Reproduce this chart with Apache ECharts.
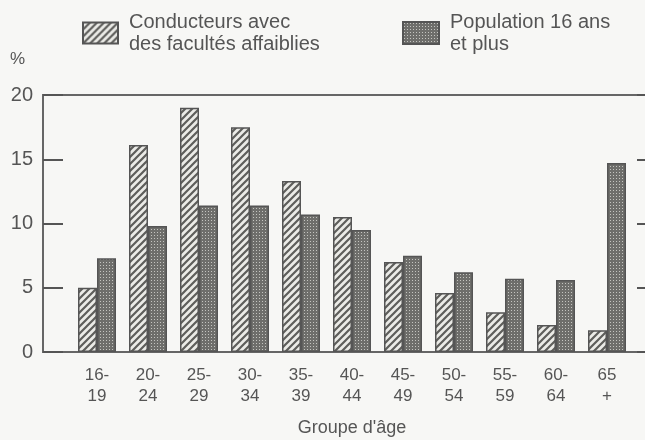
<!DOCTYPE html>
<html>
<head>
<meta charset="utf-8">
<script src="https://cdn.jsdelivr.net/npm/echarts@6/dist/echarts.min.js"></script>
<style>
  html, body { margin: 0; padding: 0; background: #f7f7f5; }
  #chart { width: 645px; height: 440px; }
</style>
</head>
<body>
<div id="chart"></div>
<script>
// groupes d'âge (axe des x)
const ageGroups = ['16-\n19', '20-\n24', '25-\n29', '30-\n34', '35-\n39', '40-\n44', '45-\n49', '50-\n54', '55-\n59', '60-\n64', '65\n+']
// conducteurs avec des facultés affaiblies (%)
const impaired = [5.0, 16.1, 19.0, 17.5, 13.3, 10.5, 7.0, 4.6, 3.1, 2.1, 1.7]
// population 16 ans et plus (%)
const population = [7.3, 9.8, 11.4, 11.4, 10.7, 9.5, 7.5, 6.2, 5.7, 5.6, 14.7]
const yTicks = [0, 5, 10, 15, 20]

const seriesNames = ['Conducteurs avec\ndes facultés affaiblies', 'Population 16 ans\net plus']

// motifs de remplissage (hachures / pointillé)
function hatchPattern() {
  const c = document.createElement('canvas')
  c.width = 7; c.height = 7
  const ctx = c.getContext('2d')
  ctx.fillStyle = '#ebebe7'
  ctx.fillRect(0, 0, 7, 7)
  ctx.strokeStyle = '#5e5e5b'
  ctx.lineWidth = 2.2
  ctx.beginPath()
  for (const o of [-7, 0, 7]) {
    ctx.moveTo(o - 1, 8)
    ctx.lineTo(o + 8, -1)
  }
  ctx.stroke()
  return c
}
function dotPattern() {
  const c = document.createElement('canvas')
  c.width = 3; c.height = 3
  const ctx = c.getContext('2d')
  ctx.fillStyle = '#6e6e6b'
  ctx.fillRect(0, 0, 3, 3)
  ctx.fillStyle = '#c4c4c0'
  ctx.fillRect(1, 1, 1, 1)
  return c
}

const textColor = '#555'
const font = 'Liberation Sans'

const legendText = { fontFamily: font, fontSize: 20, color: textColor, lineHeight: 22, padding: [0, 0, 0, 6] }

const chart = echarts.init(document.getElementById('chart'))
chart.setOption({
  backgroundColor: '#f7f7f5',
  animation: false,
  textStyle: { fontFamily: font, color: textColor },
  legend: [
    { data: [seriesNames[0]], left: 77, top: 6, icon: 'rect', itemWidth: 35, itemHeight: 21, textStyle: legendText },
    { data: [seriesNames[1]], left: 397, top: 6, icon: 'rect', itemWidth: 36, itemHeight: 22, textStyle: legendText }
  ],
  grid: [
    // cadre + axe des y
    { left: 43, top: 95, width: 620, height: 257, outerBoundsMode: 'none', show: true, borderColor: '#666', borderWidth: 2, backgroundColor: 'transparent' },
    // barres
    { left: 71.5, top: 95, width: 561, height: 257, outerBoundsMode: 'none' }
  ],
  xAxis: [
    { gridIndex: 0, type: 'value', show: false, min: 0, max: 1 },
    {
      gridIndex: 1, type: 'category', data: ageGroups,
      axisLine: { show: false }, axisTick: { show: false },
      axisLabel: { fontSize: 17, lineHeight: 21, color: textColor, margin: 13, fontFamily: font },
      name: "Groupe d'âge", nameLocation: 'middle', nameGap: 67,
      nameTextStyle: { fontSize: 18, color: textColor, fontFamily: font }
    }
  ],
  yAxis: [
    {
      gridIndex: 0, type: 'value', position: 'left', min: yTicks[0], max: yTicks[yTicks.length - 1], interval: 5,
      axisLine: { show: false }, splitLine: { show: false },
      axisTick: { show: true, inside: true, length: 20, lineStyle: { color: '#555', width: 2 } },
      axisLabel: { fontSize: 20, color: textColor, margin: 10, fontFamily: font },
      name: '%', nameLocation: 'end', nameGap: 27,
      nameTextStyle: { fontSize: 17, color: textColor, align: 'right', padding: [0, 18, 0, 0] }
    },
    {
      gridIndex: 0, type: 'value', position: 'right', min: 0, max: 20, interval: 5,
      axisLine: { show: false }, splitLine: { show: false },
      axisTick: { show: true, inside: true, length: 26, lineStyle: { color: '#555', width: 2 } },
      axisLabel: { show: false }
    },
    { gridIndex: 1, type: 'value', min: 0, max: 20, show: false }
  ],
  series: [
    {
      name: seriesNames[0], type: 'bar', xAxisIndex: 1, yAxisIndex: 2,
      data: impaired, barWidth: 19, barGap: '0%',
      itemStyle: { color: { image: hatchPattern(), repeat: 'repeat' }, borderColor: '#555', borderWidth: 1.5 }
    },
    {
      name: seriesNames[1], type: 'bar', xAxisIndex: 1, yAxisIndex: 2,
      data: population, barWidth: 19, barGap: '0%',
      itemStyle: { color: { image: dotPattern(), repeat: 'repeat' }, borderColor: '#555', borderWidth: 1.5 }
    }
  ]
})
</script>
</body>
</html>
